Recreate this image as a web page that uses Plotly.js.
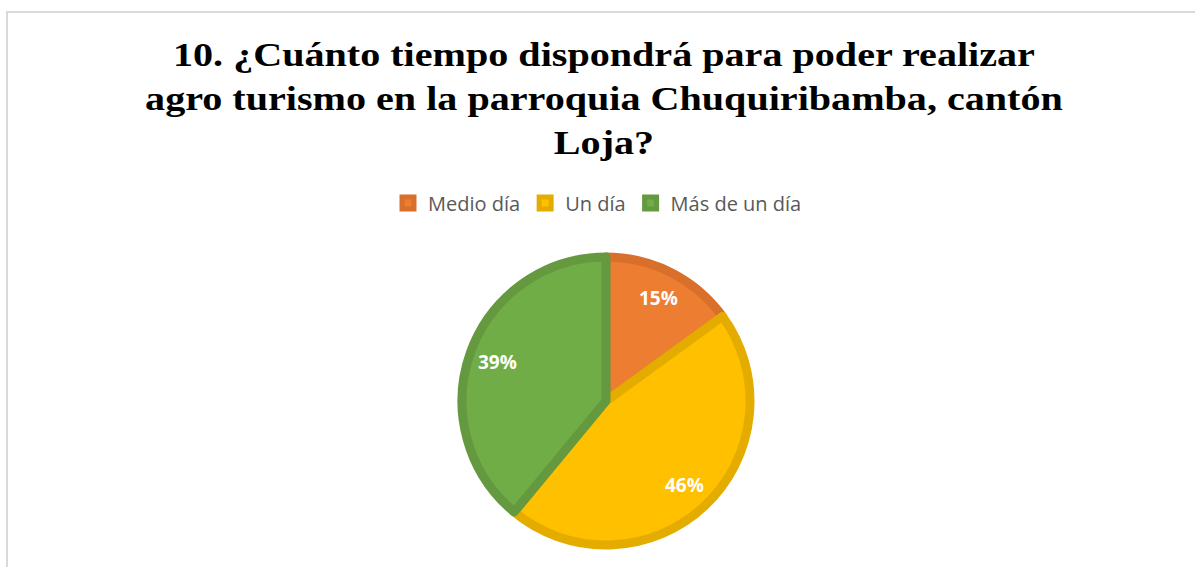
<!DOCTYPE html>
<html>
<head>
<meta charset="utf-8">
<script src="https://cdn.plot.ly/plotly-3.0.1.min.js"></script>
<style>
  html, body { margin: 0; padding: 0; background: #ffffff; overflow: hidden; }
  #chart { width: 1195px; height: 567px; }
  #chart .gtitle { transform-box: fill-box; transform-origin: 50% 50%; transform: scaleX(1.18); }
</style>
</head>
<body>
<div id="chart"></div>
<script>
const titleLines = [
  "10. ¿Cuánto tiempo dispondrá para poder realizar",
  "agro turismo en la parroquia Chuquiribamba, cantón",
  "Loja?"
];
const categories = ["Medio día", "Un día", "Más de un día"];
const percentages = [15, 46, 39];
const fillColors = ["#ED7D31", "#FFC000", "#70AD47"];
const borderColors = ["#D86F2B", "#E5AC00", "#64993F"];

const W = 1195, H = 567;
const cx = 606, cy = 401, r = 144;
const labelRadiusFrac = 0.80;

// data label positions derived from the values (mid-angle of each slice)
const total = percentages.reduce((a, b) => a + b, 0);
let cum = 0;
const annotations = percentages.map((v) => {
  const mid = (cum + v / 2) / total * 2 * Math.PI; // clockwise from 12 o'clock
  cum += v;
  const px = cx + Math.sin(mid) * r * labelRadiusFrac;
  const py = cy - Math.cos(mid) * r * labelRadiusFrac;
  return {
    x: px / W, y: 1 - py / H, xref: "paper", yref: "paper",
    text: "<b>" + v + "%</b>", showarrow: false,
    xanchor: "center", yanchor: "middle",
    font: { family: "Open Sans, sans-serif", size: 19, color: "#ffffff" }
  };
});

const trace = {
  type: "pie",
  labels: categories,
  values: percentages,
  sort: false,
  direction: "clockwise",
  rotation: 0,
  marker: { colors: fillColors, line: { color: borderColors, width: 9 } },
  textinfo: "none",
  hoverinfo: "label+percent",
  domain: { x: [(cx - r) / W, (cx + r) / W], y: [1 - (cy + r) / H, 1 - (cy - r) / H] }
};

const layout = {
  width: W, height: H,
  margin: { l: 0, r: 0, t: 0, b: 0 },
  paper_bgcolor: "#ffffff",
  title: {
    text: "<b>" + titleLines.join("<br>") + "</b>",
    font: { family: "Liberation Serif, Times New Roman, serif", size: 34, color: "#000000" },
    x: 604 / W, xanchor: "center",
    y: 1 - 66 / H, yanchor: "top",
    xref: "paper", yref: "container"
  },
  showlegend: true,
  legend: {
    orientation: "h",
    x: 0.5, xanchor: "center",
    y: 1 - 203 / H, yanchor: "middle",
    font: { family: "Open Sans, sans-serif", size: 20, color: "#595959" },
    traceorder: "normal"
  },
  annotations: annotations,
  shapes: [{
    type: "rect", xref: "paper", yref: "paper",
    x0: 7 / W, x1: 1.05, y0: -0.05, y1: 1 - 12 / H,
    line: { color: "#d9d9d9", width: 2 }, fillcolor: "rgba(0,0,0,0)", layer: "below"
  }]
};

Plotly.newPlot("chart", [trace], layout, { displayModeBar: false, staticPlot: true });
</script>
</body>
</html>
